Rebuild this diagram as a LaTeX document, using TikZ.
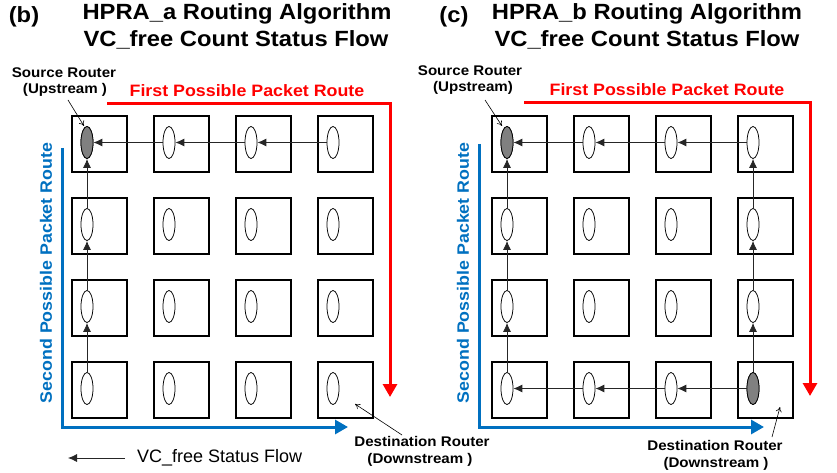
\documentclass[tikz,border=0pt]{standalone}
\usepackage{fontspec}
\setmainfont{Liberation Sans}
\usetikzlibrary{arrows.meta,shapes.geometric}
\definecolor{routeblue}{RGB}{0,112,192}
\definecolor{routered}{RGB}{255,0,0}
\definecolor{vcgray}{RGB}{128,128,128}
\newcommand{\hs}[1]{\scalebox{1.08}[1]{#1}}
\tikzset{
  router/.style={draw, line width=1.5pt, minimum width=55pt, minimum height=56pt, inner sep=0pt},
  vc/.style={draw, ellipse, line width=0.75pt, minimum width=12pt, minimum height=32pt, inner sep=0pt, fill=white},
  vcsrc/.style={vc, fill=vcgray},
  flow/.style={draw=black!85, line width=0.8pt, -{Latex[length=9pt,width=8pt]}},
  pointer/.style={draw=black, line width=0.6pt, -{To[length=5pt,width=6pt]}},
  redroute/.style={draw=routered, line width=3pt, -{Triangle[length=13pt,width=14pt]}},
  blueroute/.style={draw=routeblue, line width=3pt, -{Triangle[length=13pt,width=14pt]}},
  title/.style={font=\fontsize{22}{24}\selectfont\bfseries, anchor=center, inner sep=0pt},
  lbl/.style={font=\fontsize{14}{15}\selectfont\bfseries, inner sep=0pt},
}
\begin{document}
\begin{tikzpicture}[x=1pt,y=-1pt]
\useasboundingbox (0,0) rectangle (837,473);
% grids
\foreach \p/\dx in {b/0,c/420}{
  \foreach \r/\y in {1/144,2/226,3/308,4/390}{
    \foreach \c/\x in {1/99.5,2/181.5,3/263.5,4/345.5}{
      \node[router] (\p-\r-\c) at (\x+\dx,\y) {};
    }
  }
}
% VC ellipses
\foreach \p/\dx in {b/0,c/420}{
  \foreach \r/\y in {1/142.5,2/224.5,3/306.5,4/388.5}{
    \foreach \c/\x in {1/87,2/169,3/251,4/333}{
      \node[vc] (\p-e\r-\c) at (\x+\dx,\y) {};
    }
  }
}
\node[vcsrc] at (b-e1-1) {};
\node[vcsrc] at (c-e1-1) {};
\node[vcsrc] at (c-e4-4) {};

% panel b flows
\draw[flow] (b-e1-4.west) -- (b-e1-3.east);
\draw[flow] (b-e1-3.west) -- (b-e1-2.east);
\draw[flow] (b-e1-2.west) -- (b-e1-1.east);
\draw[flow] (b-e4-1.north) -- (b-e3-1.south);
\draw[flow] (b-e3-1.north) -- (b-e2-1.south);
\draw[flow] (b-e2-1.north) -- (b-e1-1.south);
% panel c flows
\draw[flow] (c-e1-4.west) -- (c-e1-3.east);
\draw[flow] (c-e1-3.west) -- (c-e1-2.east);
\draw[flow] (c-e1-2.west) -- (c-e1-1.east);
\draw[flow] (c-e4-1.north) -- (c-e3-1.south);
\draw[flow] (c-e3-1.north) -- (c-e2-1.south);
\draw[flow] (c-e2-1.north) -- (c-e1-1.south);
\draw[flow] (c-e4-4.north) -- (c-e3-4.south);
\draw[flow] (c-e3-4.north) -- (c-e2-4.south);
\draw[flow] (c-e2-4.north) -- (c-e1-4.south);
\draw[flow] (c-e4-4.west) -- (c-e4-3.east);
\draw[flow] (c-e4-3.west) -- (c-e4-2.east);
\draw[flow] (c-e4-2.west) -- (c-e4-1.east);

% routes panel b
\coordinate (rb0) at (107,104);
\coordinate (rb1) at (390,104);
\coordinate (rb2) at (390,397);
\draw[redroute] (rb0) -- (rb1) -- (rb2);
\coordinate (bb0) at (62,148);
\coordinate (bb1) at (62,427);
\coordinate (bb2) at (348,427);
\draw[blueroute] (bb0) -- (bb1) -- (bb2);
% routes panel c
\coordinate (rc0) at (524,103);
\coordinate (rc1) at (810,103);
\coordinate (rc2) at (810,396);
\draw[redroute] (rc0) -- (rc1) -- (rc2);
\coordinate (bc0) at (479,144);
\coordinate (bc1) at (479,427);
\coordinate (bc2) at (764,427);
\draw[blueroute] (bc0) -- (bc1) -- (bc2);

% titles
\node[title] (tb) at (24,17) {\hs{(b)}};
\node[title] (tb1) at (237,14) {\hs{HPRA\_a Routing Algorithm}};
\node[title] (tb2) at (236,40) {\hs{VC\_free Count Status Flow}};
\node[title] (tc) at (454,17) {\hs{(c)}};
\node[title] (tc1) at (647,14) {\hs{HPRA\_b Routing Algorithm}};
\node[title] (tc2) at (647,40) {\hs{VC\_free Count Status Flow}};

% route labels
\node[font=\fontsize{16.5}{18}\selectfont\bfseries, text=routered, inner sep=0pt] (fb) at (247,91) {\hs{First Possible Packet Route}};
\node[font=\fontsize{16.5}{18}\selectfont\bfseries, text=routered, inner sep=0pt] (fc) at (667,90) {\hs{First Possible Packet Route}};
\node[font=\fontsize{16.5}{18}\selectfont\bfseries, text=routeblue, inner sep=0pt, rotate=90] (sb) at (46,273) {\hs{Second Possible Packet Route}};
\node[font=\fontsize{16.5}{18}\selectfont\bfseries, text=routeblue, inner sep=0pt, rotate=90] (sc) at (463,273) {\hs{Second Possible Packet Route}};

% source / destination labels
\node[lbl] (srcb) at (64,73) {\hs{Source Router}};
\node[lbl] (srcb2) at (65,90) {\hs{(Upstream )}};
\node[lbl] (srcc) at (470,71) {\hs{Source Router}};
\node[lbl] (srcc2) at (473,88) {\hs{(Upstream)}};
\node[lbl] (dstb) at (422,441) {\hs{Destination Router}};
\node[lbl] (dstb2) at (420,460) {\hs{(Downstream )}};
\node[lbl] (dstc) at (715,445) {\hs{Destination Router}};
\node[lbl] (dstc2) at (716,464) {\hs{(Downstream )}};

\coordinate (pb0) at (68,100);
\coordinate (pb1) at (84,126);
\draw[pointer] (pb0) -- (pb1);
\coordinate (pc0) at (485,100);
\coordinate (pc1) at (502,126);
\draw[pointer] (pc0) -- (pc1);
\coordinate (qb0) at (402,435);
\coordinate (qb1) at (355,404);
\draw[pointer] (qb0) -- (qb1);
\coordinate (qc0) at (772,437);
\coordinate (qc1) at (780,407);
\draw[pointer] (qc0) -- (qc1);

% legend
\node[font=\fontsize{18}{20}\selectfont, anchor=west, inner sep=0pt] (leg) at (137,458) {VC\_free Status Flow};
\coordinate (lg0) at (125,458);
\coordinate (lg1) at (68,458);
\draw[flow] (lg0) -- (lg1);
\end{tikzpicture}
\end{document}
